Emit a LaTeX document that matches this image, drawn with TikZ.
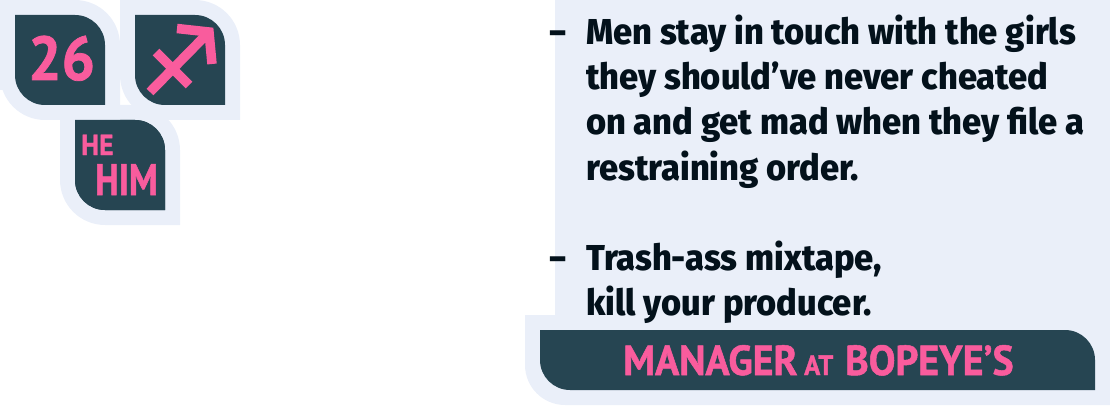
\documentclass[tikz,border=0pt]{standalone}
\usepackage{fontspec}
\setmainfont{Fira Sans}
\newfontfamily\bodyfont[FakeStretch=0.957]{Fira Sans ExtraBold}
\newfontfamily\dashfont[FakeStretch=1.3]{Fira Sans ExtraBold}
\newfontfamily\tagfont[FakeStretch=0.95,FakeBold=1.2]{PT Sans Bold}
\newfontfamily\himfont[FakeStretch=0.82,FakeBold=1.2]{PT Sans Bold}
\definecolor{haloblue}{HTML}{EAEFF9}
\definecolor{tagdark}{HTML}{264552}
\definecolor{tagpink}{HTML}{F95C9D}
\definecolor{inkdark}{HTML}{03111B}
\tikzset{
  leaftag/.pic={
    \fill[haloblue] (0,0) -- (75,0) arc[start angle=90,end angle=0,radius=45] -- (120,-120)
      -- (45,-120) arc[start angle=270,end angle=180,radius=45] -- cycle;
    \fill[tagdark] (15,-15) -- (75,-15) arc[start angle=90,end angle=0,radius=30] -- (105,-105)
      -- (45,-105) arc[start angle=270,end angle=180,radius=30] -- cycle;
  },
  bodyline/.style={anchor=base west,inner sep=0pt,text=inkdark,font=\bodyfont\fontsize{36}{36}\selectfont},
  dashline/.style={anchor=base west,inner sep=0pt,text=inkdark,font=\dashfont\fontsize{36}{36}\selectfont},
  pinktext/.style={anchor=base west,inner sep=0pt,text=tagpink},
  signline/.style={draw=tagpink,line width=9.5pt}
}
\begin{document}
\begin{tikzpicture}[x=1pt,y=1pt]
  \useasboundingbox (0,0) rectangle (1110,405);
  % panel and job bar
  \fill[haloblue] (555,405) rectangle (1110,90);
  \fill[haloblue] (525,90) -- (1110,90) -- (1110,0) -- (565,0) arc[start angle=270,end angle=180,radius=40] -- cycle;
  \fill[tagdark] (540,75) -- (1065,75) arc[start angle=90,end angle=0,radius=30] -- (1095,15)
    -- (570,15) arc[start angle=270,end angle=180,radius=30] -- cycle;
  % the three tags
  \fill[haloblue] (0,405) rectangle (15,315);
  \pic at (60,300) {leaftag};
  \pic at (0,405) {leaftag};
  \pic at (120,405) {leaftag};
  \fill[tagdark] (75,285) -- (135,285) arc[start angle=90,end angle=0,radius=30] -- (165,195)
    -- (105,195) arc[start angle=270,end angle=180,radius=30] -- cycle;
  \node[pinktext,font=\tagfont\fontsize{62}{62}\selectfont] (age) at (28,325) {26};
  \node[pinktext,font=\tagfont\fontsize{29}{29}\selectfont] (he) at (81,250) {HE};
  \node[pinktext,font=\himfont\fontsize{44}{44}\selectfont] (him) at (95,210) {HIM};
  % the sign
  \draw[signline] (150,313) -- (210,374);
  \draw[signline] (156,353) -- (189,320);
  \draw[signline,miter limit=10] (177,376.5) -- (209,373) -- (212,341);
  % the two quotes
  \node[dashline] (dashA) at (548,360) {-};
  \node[bodyline] (lineA) at (586,360) {Men stay in touch with the girls};
  \node[bodyline] (lineB) at (586,315) {they should’ve never cheated};
  \node[bodyline] (lineC) at (586,270) {on and get mad when they file a};
  \node[bodyline] (lineD) at (586,225) {restraining order.};
  \node[dashline] (dashB) at (548,135) {-};
  \node[bodyline] (lineE) at (586,135) {Trash-ass mixtape,};
  \node[bodyline] (lineF) at (586,90) {kill your producer.};
  % job title
  \node[pinktext,font=\tagfont\fontsize{42}{42}\selectfont] (jobA) at (623,30) {MANAGER};
  \node[pinktext,font=\tagfont\fontsize{28}{28}\selectfont] (jobB) at (804,30) {AT};
  \node[pinktext,font=\tagfont\fontsize{42}{42}\selectfont] (jobC) at (845,30) {BOPEYE’S};
\end{tikzpicture}
\end{document}
